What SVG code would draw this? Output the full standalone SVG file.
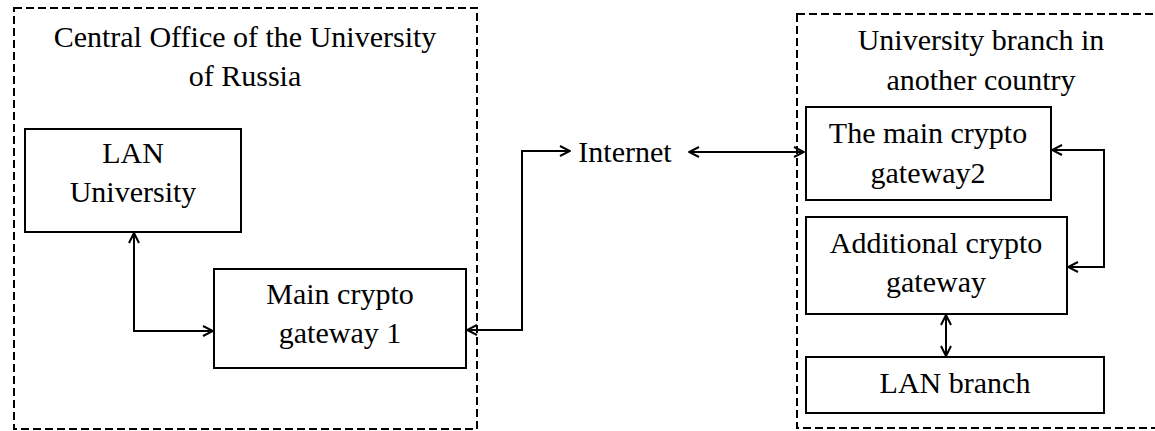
<svg xmlns="http://www.w3.org/2000/svg" width="1155" height="431" viewBox="0 0 1155 431">
<defs>
<style>
.t{font-size:30px;fill:#000;text-anchor:middle}
.box{fill:#fff;stroke:#000;stroke-width:2}
.zone{fill:none;stroke:#000;stroke-width:2;stroke-dasharray:8 4}
.conn{fill:none;stroke:#000;stroke-width:2}
</style>
<marker id="arr" viewBox="0 0 12 12" refX="11" refY="6" markerWidth="12" markerHeight="12" markerUnits="userSpaceOnUse" orient="auto-start-reverse">
<path d="M1,1 L11,6 L1,11" fill="none" stroke="#000" stroke-width="2"/>
</marker>
</defs>
<rect width="1155" height="431" fill="#fff"/>
<g font-family="Liberation Serif">
<g id="zone-central">
<rect class="zone" x="14" y="8" width="463" height="421"/>
<text class="t" x="245" y="47">Central Office of the University</text>
<text class="t" x="245" y="86">of Russia</text>
</g>
<g id="zone-branch">
<rect class="zone" x="797" y="14" width="400" height="414"/>
<text class="t" x="981" y="50">University branch in</text>
<text class="t" x="981" y="90">another country</text>
</g>
<g id="lan-university">
<rect class="box" x="25" y="129" width="216" height="103"/>
<text class="t" x="133" y="163">LAN</text>
<text class="t" x="133" y="202">University</text>
</g>
<g id="main-gateway-1">
<rect class="box" x="214" y="269" width="252" height="99"/>
<text class="t" x="340" y="304">Main crypto</text>
<text class="t" x="340" y="343">gateway 1</text>
</g>
<g id="internet">
<text class="t" x="625" y="162">Internet</text>
</g>
<g id="main-gateway-2">
<rect class="box" x="806" y="107" width="245" height="93"/>
<text class="t" x="928" y="143">The main crypto</text>
<text class="t" x="928" y="183">gateway2</text>
</g>
<g id="additional-gateway">
<rect class="box" x="806" y="217" width="261" height="97"/>
<text class="t" x="936" y="253">Additional crypto</text>
<text class="t" x="936" y="292">gateway</text>
</g>
<g id="lan-branch">
<rect class="box" x="806" y="357" width="298" height="56"/>
<text class="t" x="955" y="393">LAN branch</text>
</g>
</g>
<g id="connectors">
<path class="conn" d="M134,233 V331 H213" marker-start="url(#arr)" marker-end="url(#arr)"/>
<path class="conn" d="M467,330 H522 V151 H570" marker-start="url(#arr)" marker-end="url(#arr)"/>
<path class="conn" d="M689,152 H804" marker-start="url(#arr)" marker-end="url(#arr)"/>
<path class="conn" d="M1052,150 H1104 V267 H1068" marker-start="url(#arr)" marker-end="url(#arr)"/>
<path class="conn" d="M946,315 V356" marker-start="url(#arr)" marker-end="url(#arr)"/>
</g>
</svg>
